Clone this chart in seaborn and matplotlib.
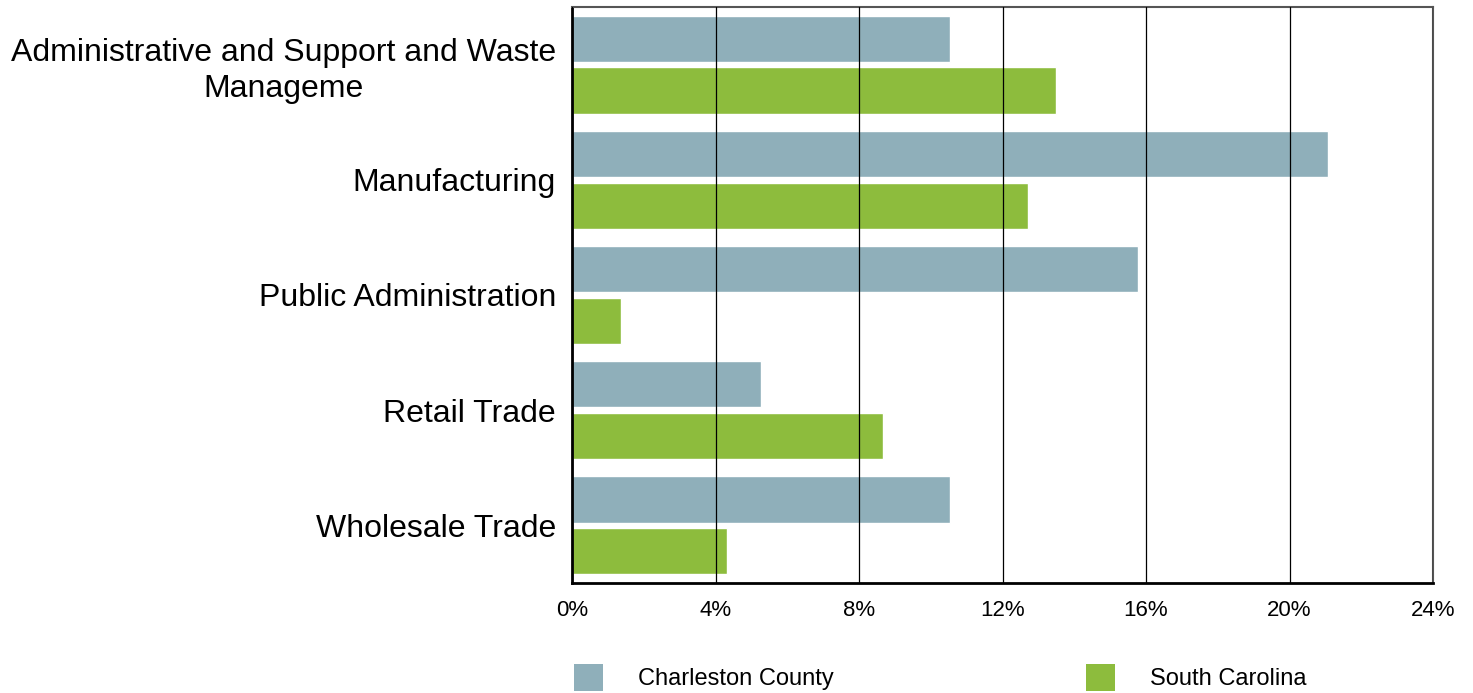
import matplotlib
matplotlib.use("Agg")
import matplotlib.pyplot as plt
import seaborn as sns
import pandas as pd
from matplotlib.ticker import FuncFormatter, MultipleLocator
from matplotlib.patches import Patch

industries = [
    "Administrative and Support and Waste\nManageme",
    "Manufacturing",
    "Public Administration",
    "Retail Trade",
    "Wholesale Trade",
]
charleston = [10.53, 21.06, 15.79, 5.26, 10.53]
south_carolina = [13.48, 12.70, 1.36, 8.66, 4.32]
series_names = ["Charleston County", "South Carolina"]
colors = ["#8FAFBA", "#8DBC3D"]

rows = []
for ind, c, s in zip(industries, charleston, south_carolina):
    rows.append({"industry": ind, "region": series_names[0], "share": c})
    rows.append({"industry": ind, "region": series_names[1], "share": s})
df = pd.DataFrame(rows)

sns.set_theme(style="white")
plt.rcParams["font.family"] = ["Liberation Sans", "DejaVu Sans"]
plt.rcParams["text.color"] = "black"

fig = plt.figure(figsize=(14.73, 6.93), dpi=100)
ax = fig.add_axes([572 / 1473, 1 - 583 / 693, (1433 - 572) / 1473, (583 - 7) / 693])

sns.barplot(data=df, y="industry", x="share", hue="region", orient="h",
            palette=colors, order=industries, hue_order=series_names,
            width=0.9, gap=0.11, ax=ax, legend=False, saturation=1)

ax.set_xlim(0, 24)
ax.set_ylim(4.5, -0.5)
ax.xaxis.set_major_locator(MultipleLocator(4))
ax.xaxis.set_major_formatter(FuncFormatter(lambda v, p: f"{v:.0f}%"))
ax.set_xlabel("")
ax.set_ylabel("")
ax.grid(axis="x", color="black", linewidth=0.9)
ax.grid(axis="y", visible=False)
ax.set_axisbelow(False)

ax.tick_params(axis="x", length=0, pad=12, labelsize=16, colors="black")
ax.tick_params(axis="y", length=0, pad=11.5, labelsize=23, colors="black")
for lbl in ax.get_yticklabels():
    lbl.set_multialignment("center")
    lbl.set_linespacing(1.25)

for side in ["left", "bottom"]:
    ax.spines[side].set_color("black")
    ax.spines[side].set_linewidth(2)
for side in ["top", "right"]:
    ax.spines[side].set_color("#555555")
    ax.spines[side].set_linewidth(1.5)
    ax.spines[side].set_visible(True)

handles = [Patch(facecolor=c, edgecolor="none", label=n) for c, n in zip(colors, series_names)]
fig.legend(handles=handles, loc="upper left", bbox_to_anchor=(574 / 1473, 1 - 664 / 693),
           ncol=2, frameon=False, fontsize=17, borderpad=0, borderaxespad=0,
           handlelength=1.23, handleheight=1.36, handletextpad=1.48, columnspacing=10.7,
           labelcolor="black")

fig.savefig("out.png", dpi=100)
